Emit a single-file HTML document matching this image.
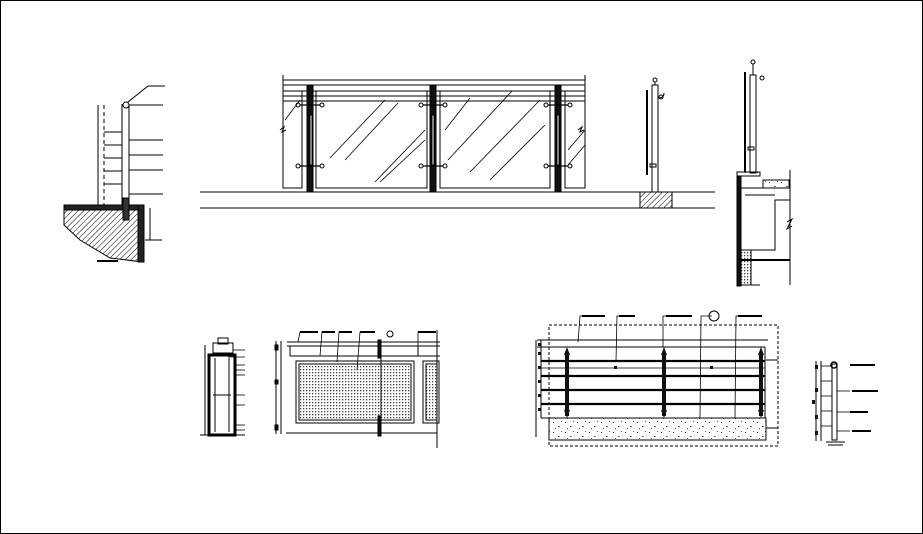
<!DOCTYPE html>
<html><head><meta charset="utf-8"><style>
html,body{margin:0;padding:0;background:#fff;}
svg{display:block;}
</style></head><body>
<svg width="923" height="534" viewBox="0 0 923 534" xmlns="http://www.w3.org/2000/svg" font-family="Liberation Sans, sans-serif">
<defs>
<pattern id="hatch" width="4" height="4" patternUnits="userSpaceOnUse" patternTransform="rotate(45)">
<line x1="0" y1="0" x2="0" y2="4" stroke="#000" stroke-width="1"/></pattern>
<pattern id="mesh" width="3" height="3" patternUnits="userSpaceOnUse">
<rect x="0" y="0" width="1.3" height="1.3" fill="#444"/></pattern>
<pattern id="conc" width="12" height="10" patternUnits="userSpaceOnUse">
<rect x="1" y="2" width="1" height="1" fill="#333"/><rect x="6" y="6" width="1.5" height="1" fill="#333"/><rect x="9" y="1" width="1" height="1" fill="#555"/><rect x="3" y="8" width="1" height="1" fill="#555"/></pattern>
</defs>
<rect x="0.5" y="0.5" width="922" height="533" fill="#fff" stroke="#000"/>
<g stroke="#000" fill="none" stroke-width="1">

<!-- LEFT SECTION -->
<line x1="98" y1="105" x2="98" y2="205"/>
<line x1="104" y1="105" x2="104" y2="205" stroke-dasharray="4 3"/>
<line x1="122" y1="104" x2="122" y2="205"/>
<line x1="129" y1="104" x2="129" y2="205"/>
<circle cx="126" cy="105" r="3"/>
<line x1="129" y1="105" x2="163" y2="105"/>
<line x1="128" y1="102" x2="148" y2="86"/><line x1="148" y1="86" x2="165" y2="86"/>
<line x1="129" y1="140" x2="163" y2="140"/><line x1="129" y1="155" x2="163" y2="155"/>
<line x1="129" y1="170" x2="163" y2="170"/><line x1="129" y1="194" x2="163" y2="194"/>
<line x1="104" y1="132" x2="122" y2="132"/><line x1="104" y1="145" x2="122" y2="145"/><line x1="104" y1="158" x2="122" y2="158"/><line x1="104" y1="171" x2="122" y2="171"/><line x1="104" y1="184" x2="122" y2="184"/>
<rect x="64" y="205" width="80" height="5" fill="#222"/>
<polygon points="64,210 143,210 143,262 110,258 80,240 64,225" fill="url(#hatch)"/>
<rect x="138" y="205" width="6" height="57" fill="#222"/>
<rect x="123" y="198" width="6" height="22" fill="#333"/>
<line x1="150" y1="208" x2="150" y2="240"/><line x1="145" y1="240" x2="162" y2="240"/>
<line x1="97" y1="261" x2="118" y2="261" stroke-width="2"/>

<!-- MAIN ELEVATION -->
<line x1="283" y1="75" x2="283" y2="188"/><line x1="585" y1="75" x2="585" y2="188"/>
<line x1="283" y1="80" x2="585" y2="80"/><line x1="283" y1="85" x2="585" y2="85"/>
<line x1="283" y1="91" x2="585" y2="91"/><line x1="283" y1="96" x2="585" y2="96"/><line x1="283" y1="101" x2="585" y2="101"/>
<rect x="283" y="91" width="19" height="97"/><rect x="316" y="91" width="111" height="97"/>
<rect x="440" y="91" width="110" height="97"/><rect x="565" y="91" width="20" height="97"/>
<line x1="200" y1="192" x2="640" y2="192"/><line x1="672" y1="192" x2="715" y2="192"/>
<line x1="200" y1="208" x2="715" y2="208"/>
<rect x="307" y="85" width="6" height="107" fill="#111"/><rect x="310" y="115" width="2" height="50" fill="#fff"/>
<rect x="430" y="85" width="6" height="107" fill="#111"/><rect x="432" y="115" width="2" height="50" fill="#fff"/>
<rect x="555" y="85" width="6" height="107" fill="#111"/><rect x="557" y="115" width="2" height="50" fill="#fff"/>
<g stroke-width="1.2">
<line x1="298" y1="105" x2="322" y2="105"/><line x1="298" y1="166" x2="322" y2="166"/>
<line x1="421" y1="105" x2="445" y2="105"/><line x1="421" y1="166" x2="445" y2="166"/>
<line x1="546" y1="105" x2="570" y2="105"/><line x1="546" y1="166" x2="570" y2="166"/>
</g>
<g fill="#fff"><circle cx="298" cy="105" r="2"/><circle cx="322" cy="105" r="2"/><circle cx="298" cy="166" r="2"/><circle cx="322" cy="166" r="2"/>
<circle cx="421" cy="105" r="2"/><circle cx="445" cy="105" r="2"/><circle cx="421" cy="166" r="2"/><circle cx="445" cy="166" r="2"/>
<circle cx="546" cy="105" r="2"/><circle cx="570" cy="105" r="2"/><circle cx="546" cy="166" r="2"/><circle cx="570" cy="166" r="2"/></g>
<g stroke-width="0.8">
<line x1="285" y1="120" x2="300" y2="100"/><line x1="330" y1="158" x2="385" y2="100"/><line x1="345" y1="160" x2="398" y2="103"/>
<line x1="375" y1="182" x2="425" y2="130"/><line x1="380" y1="182" x2="425" y2="140"/>
<line x1="445" y1="130" x2="470" y2="98"/><line x1="448" y1="160" x2="512" y2="91"/><line x1="470" y1="172" x2="540" y2="100"/><line x1="490" y1="180" x2="545" y2="125"/>
<line x1="568" y1="150" x2="585" y2="130"/><line x1="568" y1="165" x2="585" y2="145"/>
</g>
<path d="M280,130 l4,-3 l-2,5 l4,-2"/><path d="M578,130 l4,-3 l-2,5 l4,-2"/>

<!-- SIDE ELEVATION -->
<line x1="647" y1="90" x2="647" y2="175" stroke-width="2"/>
<rect x="652" y="85" width="6" height="107"/>
<circle cx="655" cy="80" r="2"/><line x1="655" y1="82" x2="655" y2="85"/>
<path d="M658,98 q6,0 6,-5"/><circle cx="661" cy="97" r="2"/>
<rect x="650" y="164" width="6" height="3"/>
<rect x="640" y="192" width="32" height="16" fill="url(#hatch)"/>

<!-- RIGHT SECTION -->
<line x1="745" y1="72" x2="745" y2="172" stroke-width="2"/>
<rect x="750" y="75" width="6" height="98"/>
<circle cx="753" cy="62" r="2"/><line x1="753" y1="64" x2="753" y2="75"/>
<circle cx="762" cy="78" r="2"/>
<rect x="748" y="147" width="6" height="3"/>
<rect x="737" y="172" width="23" height="4" fill="url(#conc)" stroke="#000"/>
<rect x="763" y="180" width="26" height="8" fill="url(#conc)"/>
<polyline points="737,176 737,285 760,285"/>
<rect x="737" y="176" width="4" height="110" fill="#111"/>
<polyline points="741,188 790,188"/><polyline points="745,195 775,195"/>
<polyline points="790,200 775,200 775,250 745,250"/>
<line x1="790" y1="170" x2="790" y2="285"/>
<line x1="741" y1="260" x2="790" y2="260" stroke-width="2"/>
<rect x="741" y="250" width="10" height="35" fill="url(#mesh)"/>
<path d="M787,222 l5,-3 l-5,10 l5,-3"/>

<!-- BOTTOM LEFT SMALL SECTION -->
<line x1="205" y1="345" x2="205" y2="435"/>
<rect x="213" y="343" width="20" height="10"/><rect x="218" y="338" width="10" height="6"/>
<rect x="209" y="355" width="26" height="80" stroke-width="3"/>
<line x1="215" y1="358" x2="215" y2="432"/><line x1="229" y1="358" x2="229" y2="432"/>
<line x1="213" y1="395" x2="231" y2="395"/>
<line x1="200" y1="435" x2="245" y2="435"/>
<g stroke-width="0.8"><line x1="233" y1="350" x2="245" y2="350"/><line x1="228" y1="357" x2="245" y2="357"/><line x1="235" y1="365" x2="245" y2="365"/><line x1="235" y1="370" x2="245" y2="370"/><line x1="235" y1="375" x2="245" y2="375"/><line x1="235" y1="395" x2="245" y2="395"/><line x1="235" y1="405" x2="245" y2="405"/><line x1="235" y1="425" x2="245" y2="425"/><line x1="235" y1="430" x2="245" y2="430"/></g>

<!-- BOTTOM ELEVATION WITH MESH -->
<line x1="276" y1="341" x2="276" y2="434"/><line x1="281" y1="341" x2="281" y2="434"/>
<line x1="287" y1="342" x2="440" y2="342"/><line x1="287" y1="346" x2="440" y2="346"/><line x1="290" y1="356" x2="440" y2="356"/>
<line x1="290" y1="346" x2="290" y2="356"/><line x1="418" y1="346" x2="418" y2="356"/>
<line x1="437" y1="330" x2="437" y2="448"/>
<line x1="286" y1="433" x2="437" y2="433"/>
<rect x="296" y="361" width="118" height="62"/>
<rect x="299" y="364" width="112" height="56" fill="url(#mesh)"/>
<rect x="423" y="361" width="16" height="62"/>
<rect x="426" y="364" width="11" height="56" fill="url(#mesh)"/>
<rect x="378" y="340" width="3" height="18" fill="#111"/><rect x="378" y="416" width="3" height="20" fill="#111"/>
<line x1="381" y1="340" x2="381" y2="436"/>
<circle cx="390" cy="334" r="3"/>
<g stroke-width="0.8"><polyline points="298,342 300,332 318,332"/><polyline points="320,356 322,332 335,332"/><polyline points="337,362 339,332 352,332"/><polyline points="357,370 360,332 375,332"/><polyline points="418,346 418,332 436,332"/></g>
<g stroke-width="2"><line x1="300" y1="332" x2="318" y2="332"/><line x1="322" y1="332" x2="335" y2="332"/><line x1="339" y1="332" x2="352" y2="332"/><line x1="360" y1="332" x2="375" y2="332"/><line x1="418" y1="332" x2="436" y2="332"/></g>
<rect x="275" y="345" width="3" height="5" fill="#111"/><rect x="275" y="380" width="3" height="4" fill="#111"/><rect x="275" y="425" width="3" height="5" fill="#111"/>

<!-- BOTTOM RIGHT ELEVATION -->
<rect x="549" y="325" width="229" height="121" stroke-dasharray="3 2"/>
<line x1="537" y1="340" x2="768" y2="340"/><line x1="537" y1="347" x2="765" y2="347"/>
<line x1="536" y1="340" x2="536" y2="437"/>
<line x1="541" y1="340" x2="541" y2="418"/>
<line x1="541" y1="418" x2="766" y2="418"/>
<line x1="765" y1="347" x2="765" y2="418"/>
<rect x="549" y="418" width="217" height="22" fill="url(#conc)"/>
<line x1="766" y1="360" x2="778" y2="360"/><line x1="766" y1="428" x2="778" y2="428"/>
<g stroke-width="2.2"><line x1="541" y1="361" x2="765" y2="361"/><line x1="541" y1="376" x2="765" y2="376"/><line x1="541" y1="390" x2="765" y2="390"/><line x1="541" y1="404" x2="765" y2="404"/></g>
<line x1="541" y1="368" x2="765" y2="368" stroke-width="0.7"/>
<g fill="#111" stroke="none"><rect x="565" y="352" width="4" height="64"/><polygon points="567,347 564,355 570,355"/><polygon points="567,418 564,410 570,410"/>
<rect x="662" y="352" width="4" height="64"/><polygon points="664,347 661,355 667,355"/><polygon points="664,418 661,410 667,410"/>
<rect x="759" y="352" width="4" height="64"/><polygon points="761,347 758,355 764,355"/><polygon points="761,418 758,410 764,410"/>
<rect x="614" y="366" width="3" height="3"/><rect x="710" y="366" width="3" height="3"/>
<rect x="538" y="343" width="3" height="3"/><rect x="538" y="352" width="3" height="3"/><rect x="538" y="366" width="3" height="3"/><rect x="538" y="380" width="3" height="3"/><rect x="538" y="394" width="3" height="3"/><rect x="538" y="408" width="3" height="3"/>
</g>
<g stroke-width="0.8"><polyline points="578,342 580,316 605,316"/><polyline points="616,361 617,316 635,316"/><polyline points="663,347 663,316 690,316"/><polyline points="700,418 701,316 712,316"/><polyline points="735,418 736,316 762,316"/></g>
<g stroke-width="2"><line x1="582" y1="316" x2="605" y2="316"/><line x1="619" y1="316" x2="635" y2="316"/><line x1="666" y1="316" x2="692" y2="316"/><line x1="738" y1="316" x2="762" y2="316"/></g>
<circle cx="714" cy="316" r="5"/>

<!-- SMALL BOTTOM RIGHT -->
<line x1="816" y1="361" x2="816" y2="441"/><line x1="821" y1="361" x2="821" y2="441"/>
<rect x="832" y="364" width="5" height="76"/>
<circle cx="834" cy="365" r="3" stroke-width="1.5"/>
<line x1="826" y1="442" x2="845" y2="442"/><line x1="828" y1="445" x2="843" y2="445"/>
<g stroke-width="0.8"><line x1="821" y1="366" x2="832" y2="366"/><line x1="821" y1="381" x2="832" y2="381"/><line x1="821" y1="396" x2="832" y2="396"/><line x1="821" y1="411" x2="832" y2="411"/><line x1="821" y1="426" x2="832" y2="426"/>
<line x1="837" y1="391" x2="850" y2="391"/><line x1="837" y1="412" x2="850" y2="412"/><line x1="837" y1="431" x2="850" y2="431"/></g>
<g stroke-width="2"><line x1="850" y1="365" x2="875" y2="365"/><line x1="852" y1="391" x2="878" y2="391"/><line x1="850" y1="412" x2="868" y2="412"/><line x1="852" y1="431" x2="871" y2="431"/></g>
<g fill="#111" stroke="none"><rect x="815" y="365" width="3" height="4"/><rect x="815" y="388" width="3" height="4"/><rect x="815" y="415" width="3" height="4"/><rect x="815" y="431" width="3" height="4"/><rect x="812" y="400" width="3" height="4"/></g>
</g>
</svg>
</body></html>
